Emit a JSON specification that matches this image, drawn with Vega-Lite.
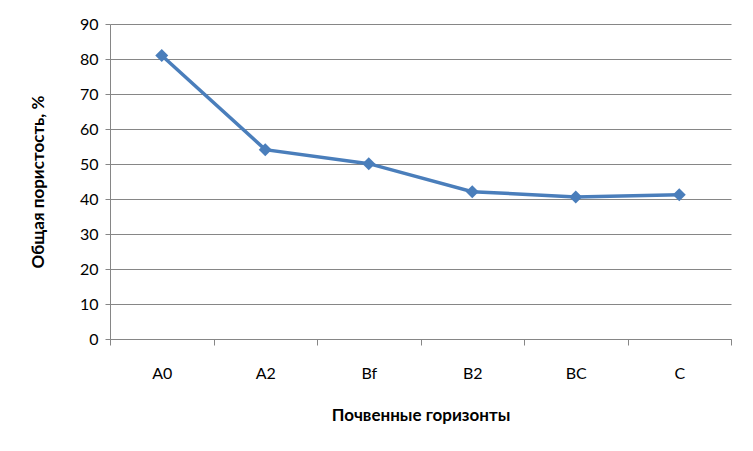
{
  "$schema": "https://vega.github.io/schema/vega-lite/v6.json",
  "width": 621,
  "height": 315,
  "autosize": "none",
  "padding": {"left": 110, "top": 24, "right": 22, "bottom": 112},
  "background": "white",
  "config": {
    "view": {"stroke": null},
    "font": "Lato"
  },
  "data": {
    "values": [
      {"horizon": "A0", "porosity": 81.0},
      {"horizon": "A2", "porosity": 54.1},
      {"horizon": "Bf", "porosity": 50.1},
      {"horizon": "B2", "porosity": 42.1},
      {"horizon": "BC", "porosity": 40.6},
      {"horizon": "C", "porosity": 41.2}
    ]
  },
  "encoding": {
    "x": {
      "field": "horizon",
      "type": "nominal",
      "sort": null,
      "scale": {"type": "band", "paddingInner": 0, "paddingOuter": 0},
      "axis": {
        "title": "Почвенные горизонты",
        "titleFont": "Lato",
        "titleFontSize": 17,
        "titleFontWeight": "bold",
        "titleColor": "black",
        "titlePadding": 26,
        "labelAngle": 0,
        "labelFont": "Lato",
        "labelFontSize": 16,
        "labelColor": "black",
        "labelPadding": 20,
        "tickBand": "extent",
        "tickColor": "#868686",
        "tickSize": 6,
        "domainColor": "#868686",
        "grid": false
      }
    },
    "y": {
      "field": "porosity",
      "type": "quantitative",
      "scale": {"domain": [0, 90], "nice": false},
      "axis": {
        "title": "Общая пористость, %",
        "titleFont": "Lato",
        "titleFontSize": 17,
        "titleFontWeight": "bold",
        "titleColor": "black",
        "titlePadding": 32,
        "values": [0, 10, 20, 30, 40, 50, 60, 70, 80, 90],
        "labelFont": "Lato",
        "labelFontSize": 16,
        "labelColor": "black",
        "labelPadding": 7,
        "tickColor": "#868686",
        "tickSize": 5,
        "domainColor": "#868686",
        "gridColor": "#868686",
        "gridWidth": 1
      }
    }
  },
  "layer": [
    {
      "mark": {"type": "line", "color": "#4A7EBB", "strokeWidth": 3.5}
    },
    {
      "mark": {"type": "point", "shape": "diamond", "filled": true, "color": "#4A7EBB", "size": 170, "opacity": 1}
    }
  ]
}
